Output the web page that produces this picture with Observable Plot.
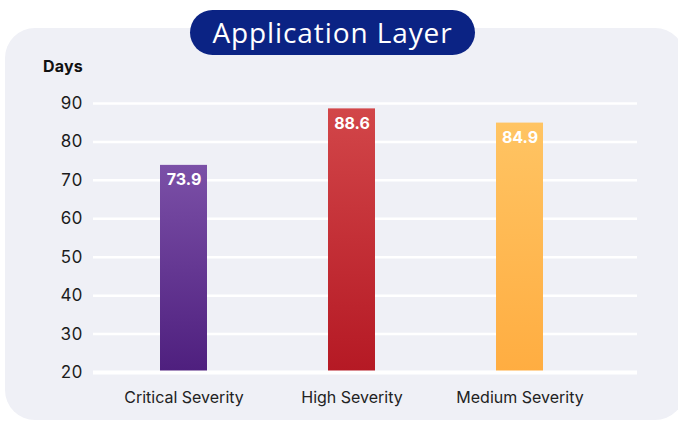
<!DOCTYPE html>
<html>
<head>
<meta charset="utf-8">
<script src="https://cdn.jsdelivr.net/npm/d3@7"></script>
<script src="https://cdn.jsdelivr.net/npm/@observablehq/plot@0.6"></script>
<style>
  html, body { margin: 0; padding: 0; background: #ffffff; }
  #wrap { position: relative; width: 678px; height: 422px; overflow: hidden; font-family: Inter, "Open Sans", sans-serif; }
  #panel { position: absolute; left: 5px; top: 28px; width: 680px; height: 392px; border-radius: 30px; background: #eff0f6; }
  #title { position: absolute; left: 190px; top: 10px; width: 285px; height: 45px; border-radius: 23px; background: #0b2384;
           color: #ffffff; font-family: "Open Sans", Inter, sans-serif; font-size: 28px; font-weight: 400; line-height: 45px; text-align: center; letter-spacing: 0.9px; }
  #days { position: absolute; left: 43px; top: 56px; font-family: Inter, sans-serif; font-weight: 700; font-size: 16px; color: #111; letter-spacing: 0.2px; }
  #chart { position: absolute; left: 0; top: 0; }
</style>
</head>
<body>
<svg width="0" height="0" style="position:absolute">
  <defs>
    <linearGradient id="gCritical" x1="0" y1="0" x2="0" y2="1">
      <stop offset="0%" stop-color="#7b50a7"/>
      <stop offset="100%" stop-color="#4e1f7e"/>
    </linearGradient>
    <linearGradient id="gHigh" x1="0" y1="0" x2="0" y2="1">
      <stop offset="0%" stop-color="#d24649"/>
      <stop offset="100%" stop-color="#b51924"/>
    </linearGradient>
    <linearGradient id="gMedium" x1="0" y1="0" x2="0" y2="1">
      <stop offset="0%" stop-color="#ffc463"/>
      <stop offset="100%" stop-color="#ffad41"/>
    </linearGradient>
  </defs>
</svg>
<div id="wrap">
  <div id="panel"></div>
  <div id="title">Application Layer</div>
  <div id="days">Days</div>
  <div id="chart"></div>
</div>
<script>
const categories = ["Critical Severity", "High Severity", "Medium Severity"];
const values = [73.9, 88.6, 84.9];
const fills = ["url(#gCritical)", "url(#gHigh)", "url(#gMedium)"];
const yTicks = [20, 30, 40, 50, 60, 70, 80, 90];

const data = categories.map((c, i) => ({category: c, value: values[i], fill: fills[i]}));

const chart = Plot.plot({
  width: 678,
  height: 422,
  marginTop: 103,
  marginBottom: 50,
  marginLeft: 93,
  marginRight: 41,
  style: {background: "transparent", fontFamily: "Inter, 'Open Sans', sans-serif", overflow: "visible"},
  x: {domain: categories, range: [99.25, 604.75], paddingInner: 0.72, paddingOuter: 0.36, label: null},
  y: {domain: [20, 90], label: null},
  color: {type: "identity"},
  marks: [
    Plot.ruleY(yTicks.filter(t => t !== 20), {stroke: "#ffffff", strokeWidth: 2.5}),
    Plot.barY(data, {x: "category", y1: 20, y2: "value", fill: "fill"}),
    Plot.ruleY([20], {stroke: "#ffffff", strokeWidth: 4}),
    Plot.text(data, {x: "category", y: "value", text: d => d.value.toFixed(1), fill: "#ffffff",
      fontWeight: 700, fontSize: 16, dy: 15}),
    Plot.axisY({ticks: yTicks, tickSize: 0, tickPadding: 11, fontSize: 17, color: "#1c1c1c", tickFormat: d => d}),
    Plot.axisX({tickSize: 0, tickPadding: 19, fontSize: 16, color: "#222"})
  ]
});
document.getElementById("chart").appendChild(chart);
</script>
</body>
</html>
